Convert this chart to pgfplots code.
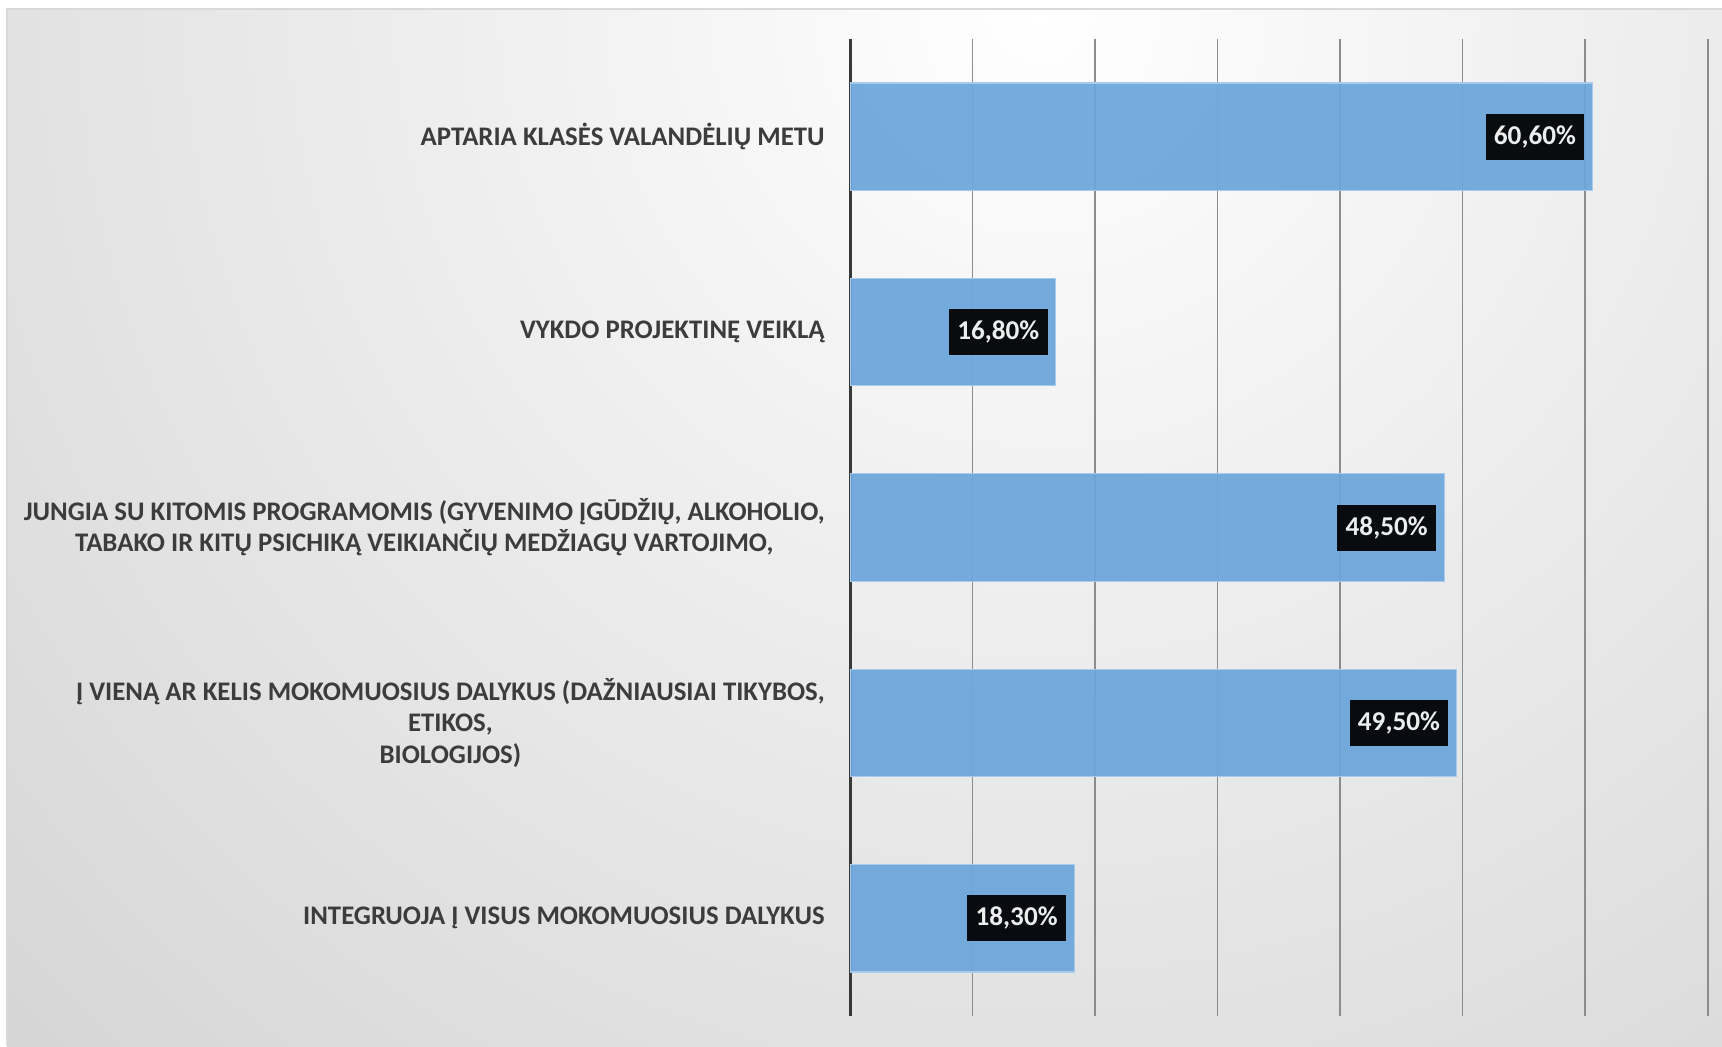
\documentclass[border=0pt]{standalone}
\usepackage{fontspec}
\setmainfont{Carlito}
\usepackage{pgfplots}
\pgfplotsset{compat=1.18}
\definecolor{bggray}{HTML}{C6C6C6}
\definecolor{barblue}{HTML}{6CA5DB}
\definecolor{baredge}{HTML}{A8CBEC}
\definecolor{labgray}{HTML}{3C3C3C}
\begin{document}
\begin{tikzpicture}
\useasboundingbox (0pt,0pt) rectangle (861pt,523pt);
\fill[white] (0pt,0pt) rectangle (861pt,523pt);
\fill[bggray] (3.5pt,0pt) rectangle (861pt,518.5pt);
\begin{scope}
\clip (3.5pt,0pt) rectangle (861pt,518.5pt);
\shade[inner color=white, outer color=bggray] (520pt,518pt) circle (1000pt);
\end{scope}
\draw[color=black!15, line width=0.8pt] (3.5pt,0pt) -- (3.5pt,518.5pt) -- (861pt,518.5pt);
\begin{axis}[
 at={(425pt,15pt)}, anchor=south west,
 width=428.85pt, height=488.5pt, scale only axis,
 xbar, bar width=53.7pt,
 xmin=0, xmax=70, ymin=-0.5, ymax=4.5,
 xtick={0,10,...,70}, xticklabels={},
 ytick={0,1,2,3,4},
 yticklabels={
  {INTEGRUOJA Į VISUS MOKOMUOSIUS DALYKUS},
  {Į VIENĄ AR KELIS MOKOMUOSIUS DALYKUS (DAŽNIAUSIAI TIKYBOS,\\ETIKOS,\\BIOLOGIJOS)},
  {JUNGIA SU KITOMIS PROGRAMOMIS (GYVENIMO ĮGŪDŽIŲ, ALKOHOLIO,\\TABAKO IR KITŲ PSICHIKĄ VEIKIANČIŲ MEDŽIAGŲ VARTOJIMO,},
  {VYKDO PROJEKTINĘ VEIKLĄ},
  {APTARIA KLASĖS VALANDĖLIŲ METU}},
 major tick length=0pt,
 axis line style={draw=none},
 xmajorgrids, major grid style={draw=black!45, line width=0.8pt},
 extra x ticks={0}, extra x tick labels={},
 extra x tick style={major grid style={draw=black!78, line width=1.5pt}},
 yticklabel style={font=\bfseries\fontsize{13.4}{15.6}\selectfont, text=labgray, align=center, inner sep=0pt, xshift=-12.5pt},
 point meta=x,
 nodes near coords={\pgfmathprintnumber[fixed,fixed zerofill,precision=2,use comma,assume math mode=true]{\pgfplotspointmeta}\%},
 every node near coord/.append style={anchor=east, xshift=-3.8pt, fill=black, text=white, font=\bfseries\fontsize{13.6}{15.4}\selectfont, inner xsep=4.2pt, inner ysep=0pt, minimum height=23pt},
]
\addplot[fill=barblue, fill opacity=0.93, draw=baredge, line width=0.6pt] coordinates {(18.3,0) (49.5,1) (48.5,2) (16.8,3) (60.6,4)};
\end{axis}
\end{tikzpicture}
\end{document}
